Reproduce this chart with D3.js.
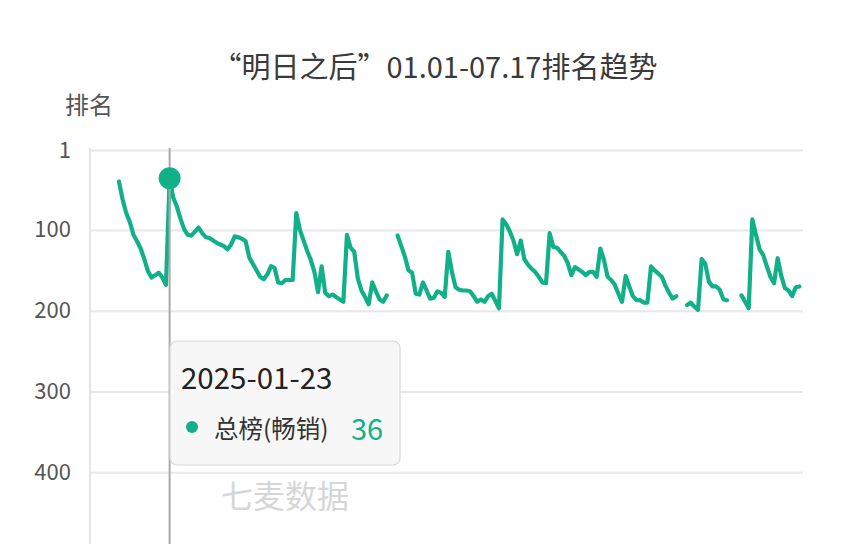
<!DOCTYPE html>
<html>
<head>
<meta charset="utf-8">
<script src="https://cdn.jsdelivr.net/npm/d3@7"></script>
<style>
html,body{margin:0;padding:0;background:#fff;overflow:hidden;}
svg{display:block;font-family:"Noto Sans CJK SC","Noto Sans",sans-serif;}
</style>
</head>
<body>
<svg id="chart" width="854" height="544"></svg>
<script>
// ---- data ----
const titleText = "“明日之后”01.01-07.17排名趋势";
const yAxisTitle = "排名";
const seriesName = "总榜(畅销)";
const startDate = "2025-01-01";
const endDate = "2025-07-17";
const yTicks = [1, 100, 200, 300, 400];
const tooltipIndex = 22; // 2025-01-23
// daily rank from 2025-01-01 (null = not ranked)
const ranks = [
  null,null,null,null,null,null,null,null,
  40,62,79,90,106,114,123,136,151,159,156,153,159,168,
  36,60,71,86,99,106,107,102,97,104,109,110,113,116,118,120,124,118,
  108,109,111,114,134,142,150,158,161,155,145,147,165,166,162,162,162,79,
  100,113,126,137,152,177,145,178,182,180,183,186,189,106,122,127,160,175,
  183,192,165,176,186,189,181,null,null,
  107,120,133,150,153,179,180,165,175,185,184,176,178,183,127,152,171,174,
  175,175,176,182,189,186,189,182,179,188,197,87,93,102,113,130,113,136,
  143,148,152,158,165,166,104,121,122,127,132,141,156,146,149,152,156,152,
  152,158,123,137,158,162,168,179,189,157,170,182,187,187,190,190,145,150,
  154,158,169,178,185,182,null,null,
  193,190,195,199,136,142,164,170,170,174,186,187,null,null,null,
  181,189,197,87,106,124,131,145,158,166,135,157,172,175,182,171,170,null
];

// ---- drawing ----
(function () {
const svg = d3.select("#chart");
const W = 854, H = 544;
const mLeft = 90, mRight = 803, mTop = 150;
const parse = d3.timeParse("%Y-%m-%d");
const dates = d3.timeDay.range(parse(startDate), d3.timeDay.offset(parse(endDate), 1));
const data = dates.map((d, i) => ({date: d, v: ranks[i] === undefined ? null : ranks[i]}));

const x = d3.scaleTime().domain([dates[0], dates[dates.length - 1]]).range([mLeft, mRight]);
const y = d3.scaleLinear().domain([1, 500]).range([mTop, mTop + 499 * 0.8075]);

const teal = "#12b088";

// title
svg.append("text").attr("x", 435).attr("y", 78).attr("text-anchor", "middle")
  .attr("font-size", 29).attr("fill", "#3a3a3a").text(titleText);
svg.append("text").attr("x", 65).attr("y", 114).attr("font-size", 24)
  .attr("fill", "#555").text(yAxisTitle);

// grid
const yAxis = d3.axisLeft(y).tickValues(yTicks).tickSize(-(mRight - mLeft)).tickPadding(19);
const gy = svg.append("g").attr("transform", `translate(${mLeft},0)`).call(yAxis);
gy.select(".domain").remove();
gy.selectAll(".tick line").attr("stroke", "#e8e8e8").attr("stroke-width", 2);
gy.selectAll(".tick text").attr("font-size", 22).attr("fill", "#555")
  .attr("font-family", '"Noto Sans CJK SC","Noto Sans",sans-serif');

// y axis line
svg.append("line").attr("x1", mLeft).attr("x2", mLeft).attr("y1", mTop - 2).attr("y2", H)
  .attr("stroke", "#e4e4e4").attr("stroke-width", 2);

// line
const line = d3.line().defined(d => d.v != null).x(d => x(d.date)).y(d => y(d.v));
svg.append("path").datum(data).attr("d", line).attr("fill", "none")
  .attr("stroke", teal).attr("stroke-width", 4.2)
  .attr("stroke-linejoin", "round").attr("stroke-linecap", "round");

// watermark
svg.append("text").attr("x", 221).attr("y", 508).attr("font-size", 32)
  .attr("fill", "#d6d6d6").text("七麦数据");

// tooltip crosshair
const tp = data[tooltipIndex];
svg.append("line").attr("x1", x(tp.date)).attr("x2", x(tp.date)).attr("y1", mTop - 2).attr("y2", H)
  .attr("stroke", "#aaa").attr("stroke-width", 2);
svg.append("circle").attr("cx", x(tp.date)).attr("cy", y(tp.v)).attr("r", 11).attr("fill", teal);

// tooltip box
const tg = svg.append("g");
tg.append("rect").attr("x", 170).attr("y", 341).attr("width", 230).attr("height", 124)
  .attr("rx", 7).attr("fill", "#f7f7f7").attr("stroke", "#d8d8d8").attr("stroke-width", 1.2);
tg.append("text").attr("x", 181).attr("y", 389).attr("font-size", 29.5).attr("fill", "#222")
  .text(d3.timeFormat("%Y-%m-%d")(tp.date));
tg.append("circle").attr("cx", 192).attr("cy", 427).attr("r", 6).attr("fill", teal);
tg.append("text").attr("x", 214).attr("y", 438).attr("font-size", 24.5).attr("fill", "#333").text(seriesName);
tg.append("text").attr("x", 351).attr("y", 440).attr("font-size", 29).attr("fill", teal).text(tp.v);
})();
</script>
</body>
</html>
